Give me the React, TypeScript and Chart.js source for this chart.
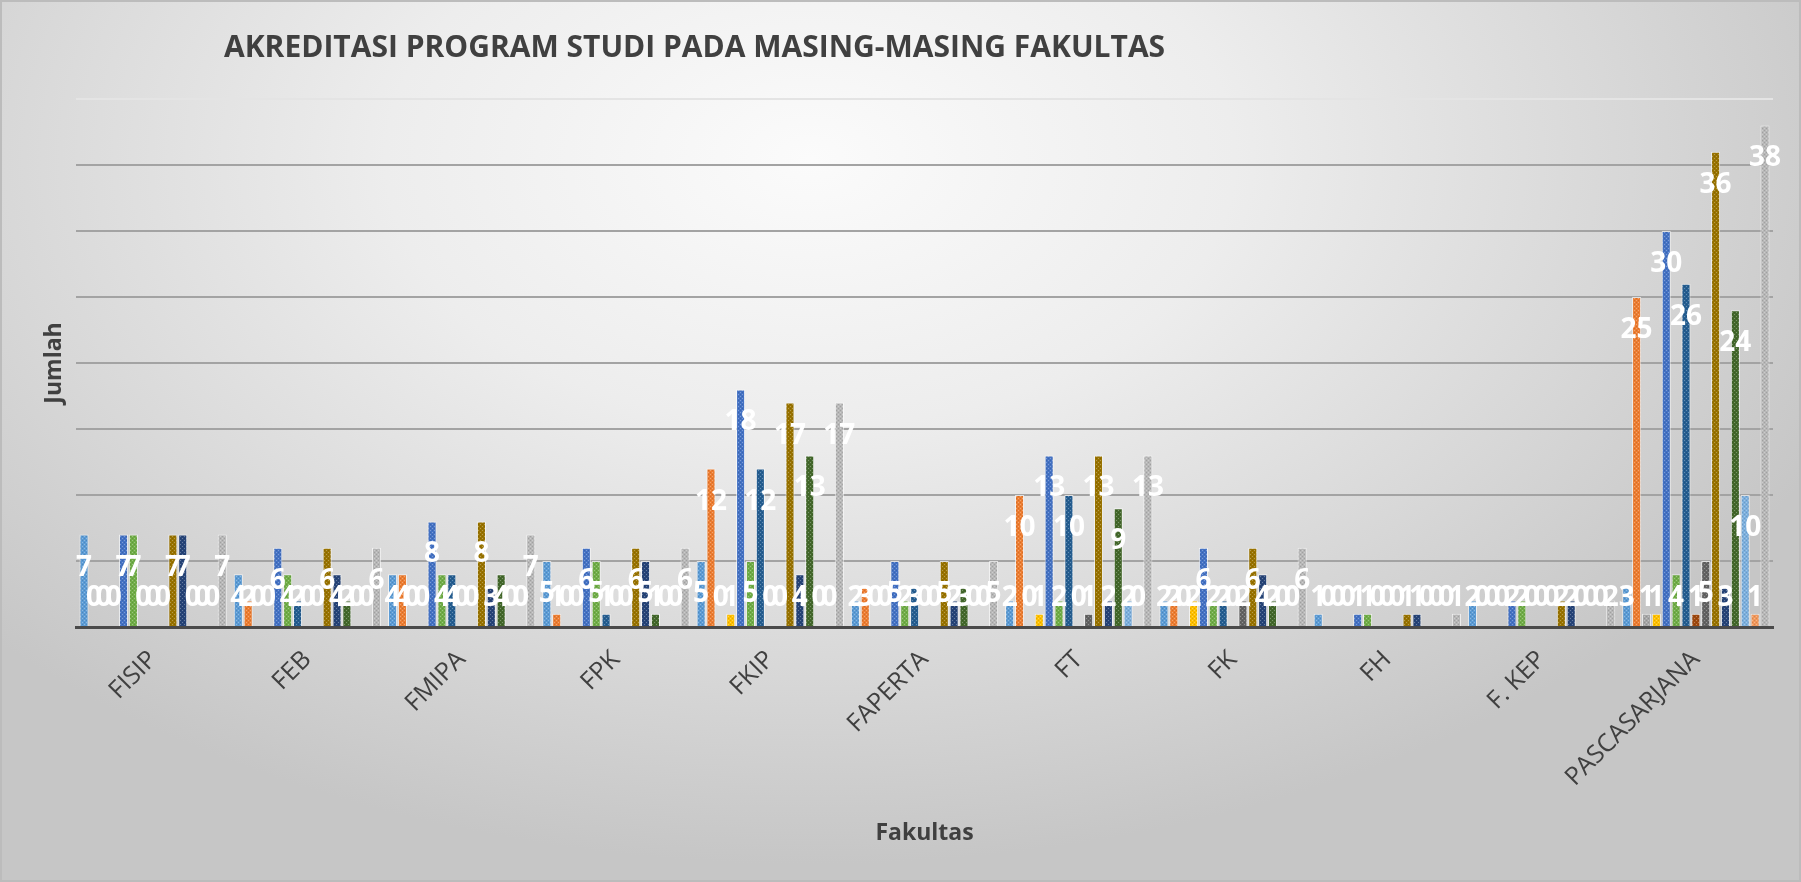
import React, { useEffect, useRef } from "react";
import { Chart, registerables } from "chart.js";

Chart.register(...registerables);

const chartTitle = "AKREDITASI PROGRAM STUDI PADA MASING-MASING FAKULTAS";
const xAxisTitle = "Fakultas";
const yAxisTitle = "Jumlah";

const categories = ["FISIP", "FEB", "FMIPA", "FPK", "FKIP", "FAPERTA", "FT", "FK", "FH", "F. KEP", "PASCASARJANA"];

const seriesNames = [
  "A (1)", "B (1)", "C (1)", "Belum (1)", "Jumlah (1)",
  "A (2)", "B (2)", "C (2)", "Belum (2)", "Jumlah (2)",
  "A (3)", "B (3)", "C (3)", "Belum (3)", "Jumlah (3)",
];

const s01 = [7, 4, 4, 5, 5, 2, 2, 2, 1, 2, 3];
const s02 = [0, 2, 4, 1, 12, 3, 10, 2, 0, 0, 25];
const s03 = [0, 0, 0, 0, 0, 0, 0, 0, 0, 0, 1];
const s04 = [0, 0, 0, 0, 1, 0, 1, 2, 0, 0, 1];
const s05 = [7, 6, 8, 6, 18, 5, 13, 6, 1, 2, 30];
const s06 = [7, 4, 4, 5, 5, 2, 2, 2, 1, 2, 4];
const s07 = [0, 2, 4, 1, 12, 3, 10, 2, 0, 0, 26];
const s08 = [0, 0, 0, 0, 0, 0, 0, 0, 0, 0, 1];
const s09 = [0, 0, 0, 0, 0, 0, 1, 2, 0, 0, 5];
const s10 = [7, 6, 8, 6, 17, 5, 13, 6, 1, 2, 36];
const s11 = [7, 4, 3, 5, 4, 2, 2, 4, 1, 2, 3];
const s12 = [0, 2, 4, 1, 13, 3, 9, 2, 0, 0, 24];
const s13 = [0, 0, 0, 0, 0, 0, 2, 0, 0, 0, 10];
const s14 = [0, 0, 0, 0, 0, 0, 0, 0, 0, 0, 1];
const s15 = [7, 6, 7, 6, 17, 5, 13, 6, 1, 2, 38];

const seriesValues = [s01, s02, s03, s04, s05, s06, s07, s08, s09, s10, s11, s12, s13, s14, s15];

const seriesColors = [
  "#5B9BD5", "#ED7D31", "#A5A5A5", "#FFC000", "#4472C4",
  "#70AD47", "#255E91", "#9E480E", "#636363", "#997300",
  "#264478", "#43682B", "#7CAFDD", "#F1975A", "#B7B7B7",
];

const yTicks = [0, 5, 10, 15, 20, 25, 30, 35, 40];

function makePattern(color: string): CanvasPattern | string {
  const c = document.createElement("canvas");
  c.width = 4;
  c.height = 4;
  const g = c.getContext("2d");
  if (!g) return color;
  g.fillStyle = color;
  g.fillRect(0, 0, 4, 4);
  g.fillStyle = "rgba(255,255,255,0.30)";
  g.fillRect(0, 0, 1, 1);
  g.fillRect(2, 2, 1, 1);
  g.fillStyle = "rgba(0,0,0,0.12)";
  g.fillRect(2, 0, 1, 1);
  g.fillRect(0, 2, 1, 1);
  const p = g.createPattern(c, "repeat");
  return p || color;
}

const valueLabelPlugin = {
  id: "valueLabels",
  afterDatasetsDraw(chart: any) {
    const ctx = chart.ctx;
    const y0 = chart.scales.y.getPixelForValue(0);
    ctx.save();
    ctx.font = 'bold 28px "Open Sans"';
    ctx.fillStyle = "#ffffff";
    ctx.textAlign = "center";
    ctx.textBaseline = "middle";
    chart.data.datasets.forEach((ds: any, i: number) => {
      const meta = chart.getDatasetMeta(i);
      meta.data.forEach((el: any, j: number) => {
        const v = ds.data[j];
        const y = Math.min(el.y + 33, y0 - 29);
        ctx.fillText(String(v), el.x, y);
      });
    });
    ctx.restore();
  },
};

const titlePlugin = {
  id: "leftTitle",
  afterDraw(chart: any) {
    const ctx = chart.ctx;
    ctx.save();
    ctx.font = 'bold 30px "Open Sans"';
    ctx.fillStyle = "#404040";
    ctx.textAlign = "left";
    ctx.textBaseline = "middle";
    ctx.fillText(chartTitle, 224, 48);
    ctx.restore();
  },
};

export default function App() {
  const ref = useRef<HTMLCanvasElement | null>(null);

  useEffect(() => {
    if (!ref.current) return;
    const datasets = seriesValues.map((vals, i) => ({
      label: seriesNames[i],
      data: vals,
      backgroundColor: makePattern(seriesColors[i]),
      borderColor: "rgba(255,255,255,0.65)",
      borderWidth: 1,
      categoryPercentage: 0.96,
      barPercentage: 0.92,
    }));
    const chart = new Chart(ref.current, {
      type: "bar",
      data: { labels: categories, datasets },
      options: {
        responsive: false,
        animation: false,
        layout: { padding: { left: 0, right: 28, top: 99, bottom: 0 } },
        plugins: {
          legend: { display: false },
          title: { display: false },
          tooltip: { enabled: false },
        },
        scales: {
          x: {
            grid: { display: false },
            border: { display: true, color: "#4a4a4a", width: 3 },
            ticks: {
              autoSkip: false,
              minRotation: 45,
              maxRotation: 45,
              padding: 10,
              color: "#404040",
              font: { family: "Open Sans", size: 25 },
            },
            title: {
              display: true,
              text: xAxisTitle,
              color: "#404040",
              font: { family: "Open Sans", size: 23, weight: "bold" },
              padding: { top: 0, bottom: 35 },
            },
            afterFit(scale: any) {
              scale.height = 255;
            },
          },
          y: {
            min: yTicks[0],
            max: yTicks[yTicks.length - 1],
            afterBuildTicks(scale: any) {
              scale.ticks = yTicks.map((v) => ({ value: v }));
            },
            grid: {
              color: (c: any) => (c.tick && c.tick.value === 40 ? "#e4e4e4" : "#a3a3a3"),
              lineWidth: 2,
              drawTicks: false,
            },
            border: { display: false },
            ticks: { display: false },
            title: {
              display: true,
              text: yAxisTitle,
              color: "#404040",
              font: { family: "Open Sans", size: 23, weight: "bold" },
              padding: { top: 41, bottom: 0 },
            },
            afterFit(scale: any) {
              scale.width = 76;
            },
          },
        },
      },
      plugins: [valueLabelPlugin, titlePlugin],
    });
    return () => chart.destroy();
  }, []);

  return (
    <div
      style={{
        position: "fixed",
        left: 0,
        top: 0,
        width: 1801,
        height: 882,
        background:
          "radial-gradient(ellipse 62% 80% at 45% 18%, #fbfbfb 0%, #ededed 38%, #d8d8d8 72%, #c6c6c6 100%)",
        boxShadow: "inset 0 0 0 2px #bcbcbc",
      }}
    >
      <canvas ref={ref} width={1801} height={882} style={{ position: "absolute", left: 0, top: 0 }} />
    </div>
  );
}
